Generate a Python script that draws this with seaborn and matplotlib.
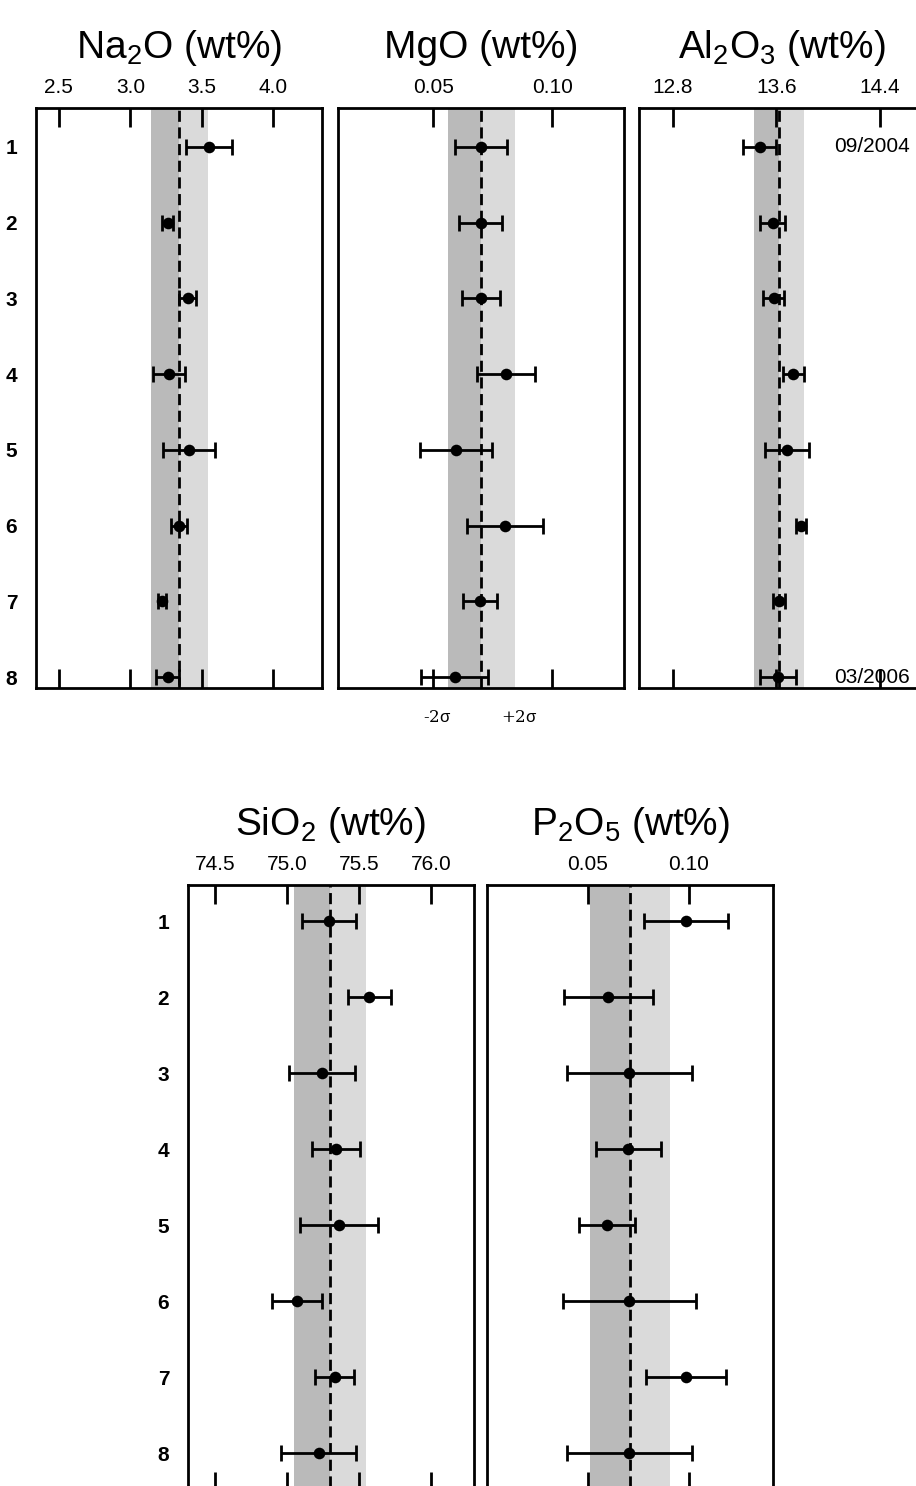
import numpy as np
import pandas as pd
import matplotlib
matplotlib.use("Agg")
import matplotlib.pyplot as plt
import seaborn as sns

sns.set_style('ticks')
plt.rcParams['font.family'] = ['Liberation Sans', 'DejaVu Sans']
plt.rcParams['mathtext.fontset'] = 'custom'
plt.rcParams['mathtext.rm'] = 'Liberation Sans'
plt.rcParams['mathtext.it'] = 'Liberation Sans'
for key in ['text.color', 'xtick.color', 'ytick.color', 'axes.labelcolor', 'axes.edgecolor']:
    plt.rcParams[key] = 'black'

runs = [1, 2, 3, 4, 5, 6, 7, 8]

# values: run means, error half-widths, reference mean and 2 sigma
na2o = [3.55, 3.26, 3.40, 3.27, 3.41, 3.34, 3.22, 3.26]
na2o_err = [0.16, 0.04, 0.06, 0.11, 0.18, 0.055, 0.03, 0.08]
na2o_ref = (3.343, 0.20)

mgo = [0.070, 0.070, 0.070, 0.0805, 0.0595, 0.080, 0.0697, 0.059]
mgo_err = [0.011, 0.009, 0.008, 0.012, 0.015, 0.016, 0.007, 0.014]
mgo_ref = (0.0702, 0.014)

al2o3 = [13.47, 13.57, 13.58, 13.73, 13.68, 13.79, 13.62, 13.61]
al2o3_err = [0.125, 0.10, 0.08, 0.08, 0.17, 0.04, 0.05, 0.14]
al2o3_ref = (13.62, 0.19)

sio2 = [75.29, 75.57, 75.24, 75.34, 75.36, 75.07, 75.33, 75.22]
sio2_err = [0.19, 0.15, 0.23, 0.165, 0.27, 0.175, 0.135, 0.26]
sio2_ref = (75.30, 0.25)

p2o5 = [0.0985, 0.060, 0.0705, 0.070, 0.0594, 0.0705, 0.0985, 0.0705]
p2o5_err = [0.021, 0.022, 0.031, 0.016, 0.014, 0.033, 0.020, 0.031]
p2o5_ref = (0.0708, 0.020)

W, H = 916, 1486
fig = plt.figure(figsize=(W / 100, H / 100), dpi=100)


def panel(px_left, px_top, px_bottom, vals, errs, ref, title, xlim, xticks, ticklabels,
          ylim, show_runs):
    ax = fig.add_axes([px_left / W, 1 - px_bottom / H, 286 / W, (px_bottom - px_top) / H])
    mean, two_sig = ref
    ax.axvspan(mean - two_sig, mean, color='#bababa', lw=0, zorder=0)
    ax.axvspan(mean, mean + two_sig, color='#dadada', lw=0, zorder=0)
    ax.axvline(mean, color='black', lw=2, ls=(0, (4, 2)), zorder=1)
    ax.errorbar(vals, runs, xerr=errs, fmt='none', ecolor='black', elinewidth=2,
                capsize=6, capthick=2, zorder=2)
    df = pd.DataFrame({'x': vals, 'y': runs})
    sns.scatterplot(data=df, x='x', y='y', ax=ax, color='black', s=70,
                    edgecolor='black', linewidth=0, zorder=3)
    ax.set_xlim(xlim)
    ax.set_ylim(ylim)
    ax.set_xticks(xticks)
    ax.set_xticklabels(ticklabels)
    ax.set_yticks(runs)
    ax.set_yticklabels([str(r) for r in runs], fontweight='bold', fontsize=15)
    ax.tick_params(axis='x', top=True, bottom=True, labeltop=True, labelbottom=False,
                   direction='in', length=14, width=2, labelsize=15, pad=8)
    ax.tick_params(axis='y', left=False, right=False, pad=10, labelleft=show_runs)
    ax.set_xlabel('')
    ax.set_ylabel('')
    for s in ax.spines.values():
        s.set_linewidth(2)
        s.set_color('black')
        s.set_visible(True)
    ax.set_title(title, fontsize=28, pad=14)
    return ax


top_ylim = (8.145, 0.485)
bot_ylim = (8.5, 0.526)

ax1 = panel(36, 108, 688, na2o, na2o_err, na2o_ref, r'Na$_{\mathrm{2}}$O (wt%)',
            (2.34, 4.34), [2.5, 3.0, 3.5, 4.0], ['2.5', '3.0', '3.5', '4.0'], top_ylim, True)
ax2 = panel(338, 108, 688, mgo, mgo_err, mgo_ref, 'MgO (wt%)',
            (0.0101, 0.130), [0.05, 0.10], ['0.05', '0.10'], top_ylim, False)
ax3 = panel(639, 108, 688, al2o3, al2o3_err, al2o3_ref,
            r'Al$_{\mathrm{2}}$O$_{\mathrm{3}}$ (wt%)',
            (12.537, 14.75), [12.8, 13.6, 14.4], ['12.8', '13.6', '14.4'], top_ylim, False)
ax4 = panel(188, 885, 1491, sio2, sio2_err, sio2_ref, r'SiO$_{\mathrm{2}}$ (wt%)',
            (74.31, 76.30), [74.5, 75.0, 75.5, 76.0], ['74.5', '75.0', '75.5', '76.0'],
            bot_ylim, True)
ax5 = panel(487, 885, 1491, p2o5, p2o5_err, p2o5_ref, r'P$_{\mathrm{2}}$O$_{\mathrm{5}}$ (wt%)',
            (0.0, 0.1416), [0.05, 0.10], ['0.05', '0.10'], bot_ylim, False)

# date labels on the Al2O3 panel
ax3.text(14.63, 1, '09/2004', ha='right', va='center', fontsize=15)
ax3.text(14.63, 8, '03/2006', ha='right', va='center', fontsize=15)

# sigma labels under the MgO panel
ax2.text(0.0518, -0.05, r'-2$\sigma$', transform=ax2.get_xaxis_transform(),
         ha='center', va='center', fontsize=12, family=['DejaVu Serif'])
ax2.text(0.0863, -0.05, r'+2$\sigma$', transform=ax2.get_xaxis_transform(),
         ha='center', va='center', fontsize=12, family=['DejaVu Serif'])

fig.savefig('out.png', dpi=100)
